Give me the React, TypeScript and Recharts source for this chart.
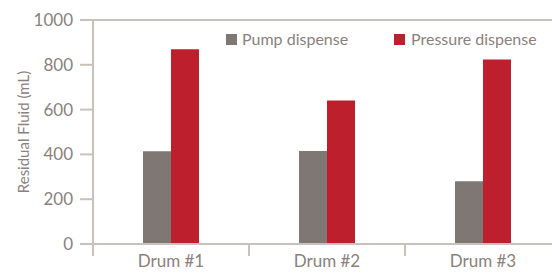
import { BarChart, Bar, XAxis, YAxis, CartesianGrid } from "recharts";

const drums = ["Drum #1", "Drum #2", "Drum #3"];
const pumpDispense = [414, 415, 280];
const pressureDispense = [869, 641, 824];
const yTicks = [0, 200, 400, 600, 800, 1000];

const data = drums.map((name, i) => ({
  name,
  pump: pumpDispense[i],
  pressure: pressureDispense[i],
}));

const AXIS = "#c9c1bb";
const TEXT = "#8a817d";
const FONT = "Lato, sans-serif";

// category ticks sit on the band boundaries, labels in the middle
const DrumTick = (props: any) => {
  const { x, y, payload } = props;
  return (
    <g>
      <line x1={x - 78} y1={y - 12} x2={x - 78} y2={y} stroke={AXIS} strokeWidth={2} />
      <text x={x} y={y} dy={11} textAnchor="middle" fill={TEXT} fontSize={17} fontFamily={FONT}>
        {payload.value}
      </text>
    </g>
  );
};

const LegendRow = () => (
  <div style={{ position: "absolute", left: 0, top: 0, fontFamily: FONT, fontSize: 16, color: TEXT }}>
    <div style={{ position: "absolute", left: 226, top: 34, width: 11, height: 11, background: "#7f7774" }} />
    <div style={{ position: "absolute", left: 242, top: 29, whiteSpace: "nowrap" }}>Pump dispense</div>
    <div style={{ position: "absolute", left: 394, top: 34, width: 11, height: 11, background: "#be1f2c" }} />
    <div style={{ position: "absolute", left: 411, top: 29, whiteSpace: "nowrap" }}>Pressure dispense</div>
  </div>
);

export default function App() {
  return (
    <div style={{ position: "fixed", left: 0, top: 0, width: 552, height: 273, overflow: "hidden", background: "#fff" }}>
      <BarChart
        width={570}
        height={273}
        data={data}
        margin={{ top: 20, right: 9, bottom: 0, left: 0 }}
        barCategoryGap={50}
        barGap={0}
      >
        <CartesianGrid horizontal vertical={false} horizontalValues={[1000]} stroke={AXIS} strokeWidth={2} />
        <XAxis
          dataKey="name"
          height={29}
          axisLine={{ stroke: AXIS, strokeWidth: 2 }}
          tickLine={false}
          tickSize={12}
          tickMargin={0}
          tick={<DrumTick />}
          interval={0}
        />
        <YAxis
          width={93}
          domain={[0, 1000]}
          ticks={yTicks}
          interval={0}
          axisLine={{ stroke: AXIS, strokeWidth: 2 }}
          tickLine={{ stroke: AXIS, strokeWidth: 2 }}
          tickSize={13}
          tickMargin={7}
          tick={{ fill: TEXT, fontSize: 17, fontFamily: FONT }}
          label={{
            value: "Residual Fluid (mL)",
            angle: -90,
            position: "insideLeft",
            offset: 0,
            dx: 24,
            style: { fill: TEXT, fontSize: 15, fontFamily: FONT, textAnchor: "middle" },
          }}
        />
        <Bar dataKey="pump" name="Pump dispense" fill="#7f7774" isAnimationActive={false} />
        <Bar dataKey="pressure" name="Pressure dispense" fill="#be1f2c" isAnimationActive={false} />
      </BarChart>
      <LegendRow />
    </div>
  );
}
